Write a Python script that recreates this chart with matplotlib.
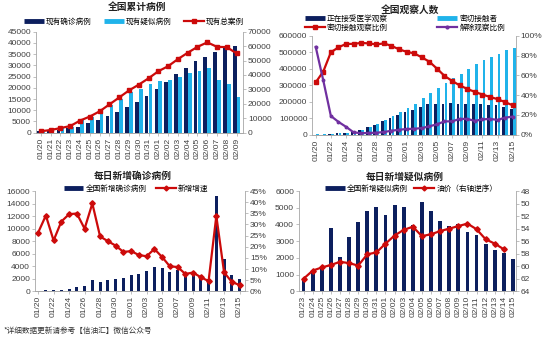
import numpy as np
import matplotlib
matplotlib.use("Agg")
import matplotlib.pyplot as plt
from matplotlib.lines import Line2D

plt.rcParams['font.family'] = ['Liberation Sans', 'Noto Sans CJK SC']
plt.rcParams['axes.unicode_minus'] = False

NAVY = '#0c1f5e'
SKY = '#20b3ea'
RED = '#cc0a0a'
PURPLE = '#7030a0'
GREY = '#a6a6a6'
TXT = '#404040'
CJK = ['Noto Sans CJK SC', 'DejaVu Sans']

# --- 全国累计病例 ---
dates_total = ['01/20', '01/21', '01/22', '01/23', '01/24', '01/25', '01/26',
               '01/27', '01/28', '01/29', '01/30', '01/31', '02/01', '02/02',
               '02/03', '02/04', '02/05', '02/06', '02/07', '02/08', '02/09']
cur_confirmed = [600, 800, 1200, 1900, 2600, 4300, 5600, 7400, 9200, 11300, 13800,
                 16200, 19400, 22800, 26300, 29000, 31800, 33700, 35900, 37600, 38800]
cur_suspected = [400, 1070, 2000, 2700, 5800, 6900, 9200, 12200, 15200, 18000, 19500,
                 21500, 23200, 23300, 24700, 26400, 27700, 28900, 23600, 21700, 16100]
cur_total = [1000, 1870, 3200, 4600, 8400, 11200, 14800, 19600, 24400, 29300, 33300,
             37700, 42600, 46100, 51000, 55400, 59500, 62600, 59500, 59300, 54900]

# --- 全国观察人数 ---
dates_daily = ['01/20', '01/21', '01/22', '01/23', '01/24', '01/25', '01/26',
               '01/27', '01/28', '01/29', '01/30', '01/31', '02/01', '02/02',
               '02/03', '02/04', '02/05', '02/06', '02/07', '02/08', '02/09',
               '02/10', '02/11', '02/12', '02/13', '02/14', '02/15']
observing = [900, 1200, 4900, 7500, 10700, 14000, 28300, 44100, 60000, 81900, 102400,
             118500, 137600, 152700, 171300, 185600, 186400, 186000, 189700, 188200,
             187500, 187700, 185000, 181400, 178000, 169000, 158800]
contacts = [1700, 1900, 5900, 8400, 11600, 15200, 30500, 47800, 65500, 88700, 113600,
            137000, 163800, 189600, 221000, 252200, 282800, 314000, 345500, 371900,
            399500, 428400, 451500, 471500, 493100, 513200, 529400]
obs_ratio = [53, 64, 83.5, 88.5, 92, 92, 93, 92.5, 91.5, 92.5, 90, 86.5, 84, 82.4,
             78.4, 74, 67, 59.6, 54.5, 50, 46.4, 43.4, 40.7, 38.3, 36, 33, 29.8]
released_ratio = [89, 55, 19, 13, 8, 2.4, 1.5, 1.8, 2, 2.7, 4, 5, 5.8, 6, 6.7, 8.5,
                  10.5, 13.5, 13.5, 16, 16, 14, 15.5, 16, 15, 17.3, 18.3]

# --- 每日新增确诊病例 ---
new_confirmed = [77, 149, 131, 259, 444, 688, 769, 1771, 1459, 1737, 1982, 2102, 2590,
                 2829, 3235, 3887, 3694, 3143, 3399, 2656, 3062, 2478, 2015, 15152,
                 5090, 2641, 2009]
growth = [26.3, 34, 22.8, 31.3, 34.6, 34.9, 28.1, 39.4, 24.6, 22.5, 20.5, 17.7, 18,
          16.3, 15.7, 19, 15.4, 11.2, 10.9, 7.8, 8.4, 6.3, 4.6, 33.8, 8.5, 4.2, 2.8]

# --- 每日新增疑似病例 ---
dates_susp = ['01/23', '01/24', '01/25', '01/26', '01/27', '01/28', '01/29', '01/30',
              '01/31', '02/01', '02/02', '02/03', '02/04', '02/05', '02/06', '02/07',
              '02/08', '02/09', '02/10', '02/11', '02/12', '02/13', '02/14', '02/15']
new_suspected = [700, 1118, 1309, 3806, 2077, 3248, 4148, 4812, 5019, 4562, 5173, 5072,
                 3971, 5328, 4833, 4214, 3916, 4008, 3536, 3342, 2807, 2450, 2277, 1918]
oil_price = [62.0, 60.7, 60.2, 59.8, 59.3, 59.5, 59.9, 58.1, 57.8, 56.4, 55.1, 54.2,
             53.7, 55.2, 54.9, 54.4, 54.0, 53.6, 53.2, 54.1, 55.7, 56.4, 57.3]


def style(ax, axr):
    for a in (ax, axr):
        a.spines['top'].set_visible(False)
        for s in ('left', 'right', 'bottom'):
            a.spines[s].set_color(GREY)
            a.spines[s].set_linewidth(0.6)
        a.tick_params(labelsize=6, colors=TXT, length=2, width=0.5, color=GREY, pad=1.5)
    ax.spines['right'].set_visible(False)
    axr.spines['left'].set_visible(False)


def bar_handle(color):
    return Line2D([], [], color=color, lw=3.5, solid_capstyle='butt')


def add_legend(ax, handles, labels, xy, ncol, colsp=1.5):
    ax.legend(handles, labels, loc='center', bbox_to_anchor=xy,
              bbox_transform=fig.transFigure, ncol=ncol, frameon=False,
              prop={'family': CJK, 'size': 5.5}, handlelength=2.6,
              handletextpad=0.3, columnspacing=colsp, borderaxespad=0,
              labelspacing=0.15)


def title(x, y, s):
    fig.text(x / 550, 1 - y / 339, s, ha='center', va='center', fontsize=7,
             fontweight='bold', family=CJK, color='#222222')


fig = plt.figure(figsize=(5.5, 3.39), dpi=100)

# panel 1
ax1 = fig.add_axes([36 / 550, 1 - 132.7 / 339, 207 / 550, 101 / 339])
ax1r = ax1.twinx()
x1 = np.arange(len(dates_total))
ax1.bar(x1 - 0.2, cur_confirmed, 0.38, color=NAVY)
ax1.bar(x1 + 0.2, cur_suspected, 0.38, color=SKY)
ax1r.plot(x1, cur_total, color=RED, lw=1.6, marker='s', ms=3.2)
ax1.set_ylim(0, 45000)
ax1.set_yticks(np.arange(0, 45001, 5000))
ax1r.set_ylim(0, 70000)
ax1r.set_yticks(np.arange(0, 70001, 10000))
ax1.set_xlim(-0.5, len(x1) - 0.35)
ax1.set_xticks(x1)
ax1.set_xticklabels(dates_total, rotation=90)
style(ax1, ax1r)
title(137, 7, '全国累计病例')
add_legend(ax1, [bar_handle(NAVY), bar_handle(SKY),
                 Line2D([], [], color=RED, lw=1.6, marker='s', ms=3)],
           ['现有确诊病例', '现有疑似病例', '现有总案例'], (134 / 550, 1 - 22 / 339), 3, 1.6)

# panel 2
ax2 = fig.add_axes([312.3 / 550, 1 - 134.7 / 339, 203.4 / 550, 98.7 / 339])
ax2r = ax2.twinx()
x2 = np.arange(len(dates_daily))
ax2.bar(x2 - 0.2, observing, 0.36, color=NAVY)
ax2.bar(x2 + 0.2, contacts, 0.36, color=SKY)
ax2r.plot(x2, obs_ratio, color=RED, lw=1.6, marker='s', ms=2.2)
ax2r.plot(x2, released_ratio, color=PURPLE, lw=1.6, marker='o', ms=1.8)
ax2.set_ylim(0, 600000)
ax2.set_yticks(np.arange(0, 600001, 100000))
ax2r.set_ylim(0, 100)
ax2r.set_yticks(np.arange(0, 101, 20))
ax2r.set_yticklabels([f'{v}%' for v in range(0, 101, 20)])
ax2.set_xlim(-0.45, len(x2) - 0.6)
ax2.set_xticks(x2[::2])
ax2.set_xticklabels(dates_daily[::2], rotation=90)
style(ax2, ax2r)
title(410, 10, '全国观察人数')
add_legend(ax2, [bar_handle(NAVY), Line2D([], [], color=RED, lw=1.6, marker='s', ms=2.5),
                 bar_handle(SKY), Line2D([], [], color=PURPLE, lw=1.6, marker='o', ms=2)],
           ['正在接受医学观察', '密切接触观察比例', '密切接触者', '解除观察比例'],
           (405 / 550, 1 - 23.5 / 339), 2, 6.5)

# panel 3
ax3 = fig.add_axes([35 / 550, 1 - 291.3 / 339, 210 / 550, 100.3 / 339])
ax3r = ax3.twinx()
x3 = np.arange(len(dates_daily))
ax3.bar(x3, new_confirmed, 0.4, color=NAVY)
ax3r.plot(x3, growth, color=RED, lw=1.6, marker='D', ms=2.8)
ax3.set_ylim(0, 16000)
ax3.set_yticks(np.arange(0, 16001, 2000))
ax3r.set_ylim(0, 45)
ax3r.set_yticks(np.arange(0, 46, 5))
ax3r.set_yticklabels([f'{v}%' for v in range(0, 46, 5)])
ax3.set_xlim(-0.4, len(x3) - 0.3)
ax3.set_xticks(x3[::2])
ax3.set_xticklabels(dates_daily[::2], rotation=90)
style(ax3, ax3r)
title(133, 176, '每日新增确诊病例')
add_legend(ax3, [bar_handle(NAVY), Line2D([], [], color=RED, lw=1.6, marker='D', ms=2.5)],
           ['全国新增确诊病例', '新增增速'], (136 / 550, 1 - 189 / 339), 2, 1.2)

# panel 4
ax4 = fig.add_axes([299 / 550, 1 - 291.3 / 339, 216.7 / 550, 100.3 / 339])
ax4r = ax4.twinx()
x4 = np.arange(len(dates_susp))
ax4.bar(x4, new_suspected, 0.42, color=NAVY)
ax4r.plot(x4[:len(oil_price)], oil_price, color=RED, lw=1.6, marker='D', ms=2.8)
ax4.set_ylim(0, 6000)
ax4.set_yticks(np.arange(0, 6001, 1000))
ax4r.set_ylim(64, 48)
ax4r.set_yticks(np.arange(48, 65, 2))
ax4.set_xlim(-0.5, len(x4) - 0.7)
ax4.set_xticks(x4)
ax4.set_xticklabels(dates_susp, rotation=90)
style(ax4, ax4r)
title(405, 177, '每日新增疑似病例')
add_legend(ax4, [bar_handle(NAVY), Line2D([], [], color=RED, lw=1.6, marker='D', ms=2.5)],
           ['全国新增疑似病例', '油价（右轴逆序）'], (411 / 550, 1 - 189 / 339), 2, 0.8)

fig.text(4 / 550, 1 - 331 / 339, '*详细数据更新请参考【信油汇】微信公众号', fontsize=5.5,
         family=CJK, color='#333333', va='center')

fig.savefig('out.png', dpi=100, facecolor='white')
